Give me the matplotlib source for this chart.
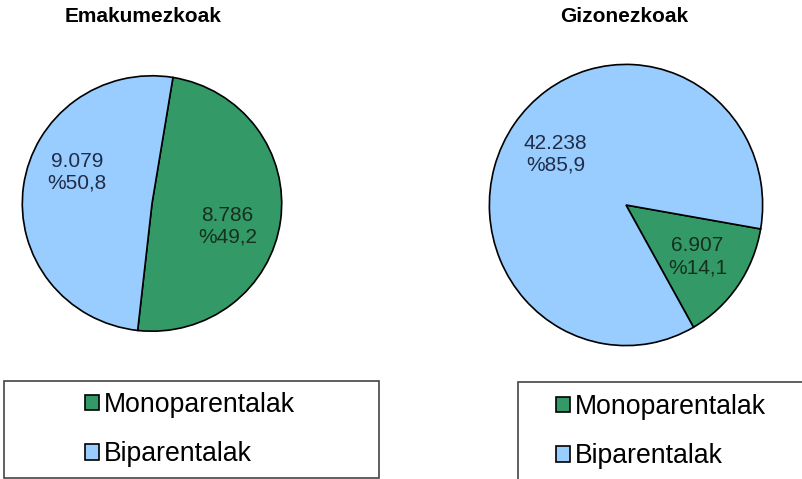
import matplotlib
matplotlib.use("Agg")
import matplotlib.pyplot as plt
from matplotlib.patches import Rectangle, Patch
import numpy as np

plt.rcParams['font.family'] = ['Liberation Sans', 'DejaVu Sans']

titles = ["Emakumezkoak", "Gizonezkoak"]
categories = ["Monoparentalak", "Biparentalak"]
women_values = [8786, 9079]
men_values = [6907, 42238]
women_labels = ["8.786\n%49,2", "9.079\n%50,8"]
men_labels = ["6.907\n%14,1", "42.238\n%85,9"]
colors = ["#339966", "#99CCFF"]
text_colors = ["#15301f", "#1f2d47"]

W, H = 803, 479
fig = plt.figure(figsize=(W / 100, H / 100), dpi=100)


def px_axes(cx, cy, rx, ry):
    return fig.add_axes([(cx - rx) / W, (H - cy - ry) / H, 2 * rx / W, 2 * ry / H])


def draw_pie(ax, values, labels, start, label_pos):
    wedges, _ = ax.pie(values, colors=colors, startangle=start, counterclock=False,
                       wedgeprops=dict(edgecolor="black", linewidth=1.2),
                       radius=1.0)
    ax.set_xlim(-1.01, 1.01)
    ax.set_ylim(-1.01, 1.01)
    ax.set_aspect('auto')
    ax.axis('off')
    for lab, (ang, r), tc in zip(labels, label_pos, text_colors):
        a = np.deg2rad(ang)
        ax.text(r * np.cos(a), r * np.sin(a), lab, ha='center', va='center',
                fontsize=15, color=tc, linespacing=1.2)


ax1 = px_axes(152, 203.5, 131, 129)
draw_pie(ax1, women_values, women_labels, 80.7, [(-17, 0.61), (157, 0.63)])
ax2 = px_axes(626, 205, 138, 142)
draw_pie(ax2, men_values, men_labels, -9.8, [(-35, 0.64), (145, 0.63)])

fig.text(143 / W, 1 - 16 / H, titles[0], ha='center', va='center', fontsize=15, fontweight='bold')
fig.text(624 / W, 1 - 16 / H, titles[1], ha='center', va='center', fontsize=15, fontweight='bold')

# legend boxes
fig.patches.append(Rectangle((4 / W, 1 / H), (379 - 4) / W, (H - 381 - 1) / H, transform=fig.transFigure,
                             facecolor='white', edgecolor='#444444', linewidth=1.2, zorder=0))
fig.patches.append(Rectangle((518 / W, -0.01), (W - 518 + 5) / W, (H - 382) / H + 0.01,
                             transform=fig.transFigure,
                             facecolor='white', edgecolor='#444444', linewidth=1.2, zorder=0))

handles = [Patch(facecolor=c, edgecolor='black', linewidth=1.2) for c in colors]
for x_left, yc in [(85, 429.5), (556, 431.5)]:
    fig.legend(handles, categories, loc='center left', bbox_to_anchor=(x_left / W, 1 - yc / H),
               frameon=False, fontsize=19.2, handlelength=0.52, handleheight=0.52,
               handletextpad=0.2, labelspacing=0.88, borderpad=0, borderaxespad=0)

fig.savefig("out.png", dpi=100)
